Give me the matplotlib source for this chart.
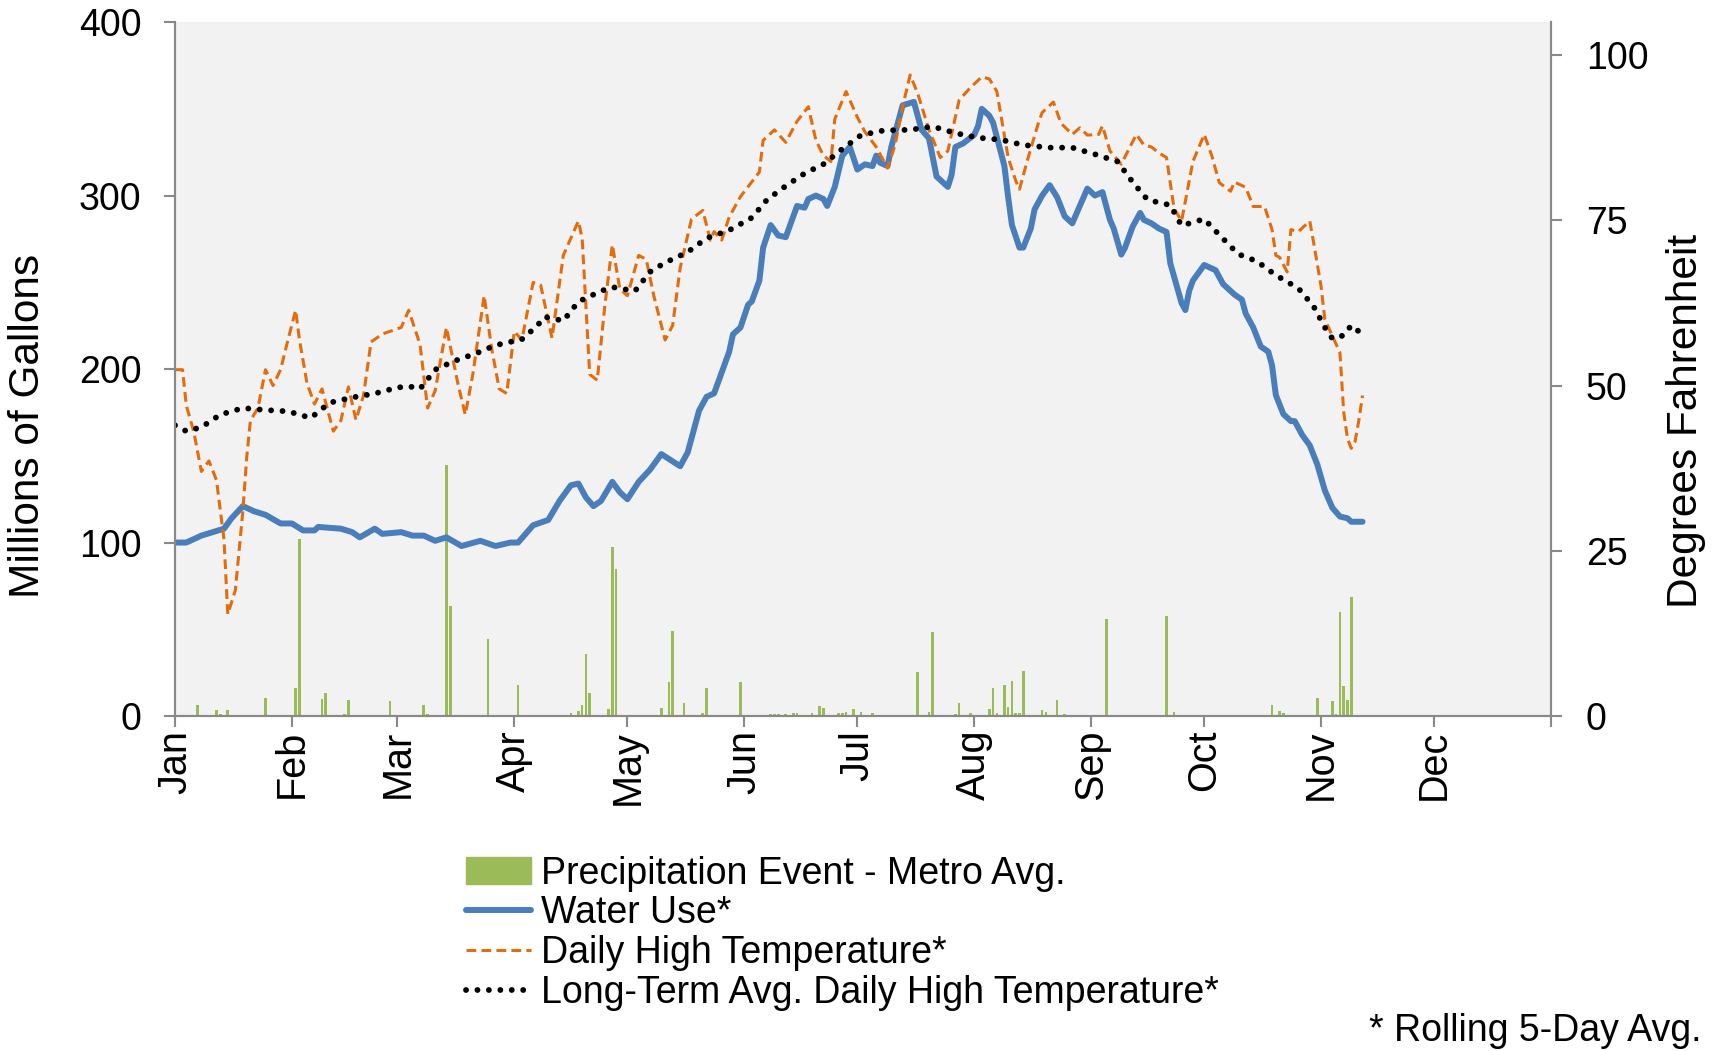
import matplotlib
matplotlib.use("Agg")
import matplotlib.pyplot as plt
from matplotlib.lines import Line2D
from matplotlib.patches import Patch

plt.rcParams['font.family'] = ['Liberation Sans', 'DejaVu Sans']

# ---- data (day of year) ----
months = ["Jan", "Feb", "Mar", "Apr", "May", "Jun", "Jul", "Aug", "Sep", "Oct", "Nov", "Dec"]
month_start = [0, 31, 59, 90, 120, 151, 181, 212, 243, 273, 304, 334]

use_day = [0, 3, 7, 10, 13, 15, 18, 21, 24, 28, 31, 34, 37, 38, 44, 47, 49, 53, 55, 60,
           63, 66, 69, 72, 76, 81, 85, 89, 91, 95, 99, 102, 105, 107, 109, 111, 113, 116, 118, 120,
           123, 126, 129, 134, 136, 139, 141, 143, 145, 147, 148, 150, 152, 153, 155, 156, 158, 160, 162, 165,
           167, 168, 170, 172, 173, 175, 177, 179, 181, 183, 185, 186, 187, 189, 190, 193, 196, 198, 200, 202,
           205, 206, 207, 209, 212, 213, 214, 216, 217, 220, 221, 222, 224, 225, 227, 228, 230, 232, 234, 236,
           238, 240, 242, 244, 246, 248, 249, 251, 252, 254, 256, 257, 259, 261, 263, 264, 267, 268, 269, 270,
           273, 276, 278, 279, 281, 283, 284, 286, 288, 290, 291, 292, 294, 296, 297, 299, 301, 303, 305, 307,
           309, 311, 312, 313, 315]
use_val = [100, 100, 104, 106, 108, 114, 121, 118, 116, 111, 111, 107, 107, 109, 108, 106, 103, 108, 105, 106,
           104, 104, 101, 103, 98, 101, 98, 100, 100, 110, 113, 124, 133, 134, 126, 121, 124, 135, 129, 125,
           135, 142, 151, 144, 152, 176, 184, 186, 198, 210, 220, 224, 237, 239, 251, 270, 283, 277, 276, 294,
           293, 298, 300, 298, 294, 305, 323, 328, 315, 318, 317, 323, 319, 317, 328, 352, 354, 338, 333, 311,
           305, 312, 328, 330, 335, 340, 350, 346, 342, 317, 299, 283, 270, 270, 281, 292, 300, 306, 299, 288,
           284, 294, 304, 300, 302, 286, 281, 266, 270, 282, 290, 286, 284, 281, 279, 261, 238, 234, 245, 251,
           260, 257, 249, 247, 243, 240, 232, 224, 213, 210, 202, 185, 174, 170, 170, 162, 156, 145, 130, 120,
           115, 114, 112, 112, 112]

hi_day = [0, 2, 3, 5, 7, 9, 11, 13, 14, 16, 18, 19, 20, 22, 24, 26, 28, 30, 32, 33,
          35, 37, 39, 42, 44, 46, 48, 50, 52, 55, 60, 62, 65, 67, 69, 72, 75, 77, 79, 82,
          84, 86, 88, 90, 92, 95, 97, 100, 103, 107, 108, 110, 112, 114, 116, 118, 120, 123, 125, 127,
          130, 132, 134, 137, 140, 142, 143, 145, 147, 150, 155, 156, 159, 162, 165, 168, 170, 172, 174, 175,
          178, 181, 183, 186, 189, 191, 193, 195, 197, 200, 203, 205, 208, 211, 214, 216, 218, 221, 223, 224,
          226, 229, 230, 233, 235, 238, 240, 242, 245, 246, 248, 251, 255, 257, 259, 261, 263, 265, 267, 270,
          273, 275, 277, 280, 281, 284, 286, 289, 291, 292, 293, 295, 296, 298, 301, 302, 304, 305, 307, 309,
          310, 311, 312, 313, 314, 315]
hi_val = [52.4, 52.4, 47, 43, 37, 38.6, 35.7, 26.7, 15.4, 19, 31, 39, 44.7, 46.6, 52.4, 50, 52.4, 57, 61.4, 57,
          50.4, 47.2, 49.5, 43.1, 44.7, 49.8, 44.8, 48.5, 56.6, 57.8, 58.8, 61.4, 56.2, 46.6, 49.2, 58.8, 50.4, 45.6, 51.7, 63.6,
          55.6, 49.5, 48.8, 58.2, 56.9, 65.6, 65.2, 57.2, 69.7, 74.9, 72.3, 51.7, 50.8, 62, 71.3, 64.6, 63.6, 69.7, 69.1, 63.6,
          56.9, 59.1, 67.8, 75.2, 76.5, 72, 73.3, 72, 75.5, 78.6, 82.3, 87.1, 88.7, 86.8, 90, 92.2, 87.1, 84.8, 83.9, 90.3,
          94.5, 90.6, 88.4, 86.1, 82.9, 86.4, 92.2, 97, 94.2, 88.7, 84.5, 85.5, 93.2, 95.1, 96.7, 96.4, 94.5, 84.5, 81, 79.7,
          83.9, 89.7, 91.3, 92.9, 89.7, 88, 89, 87.9, 88, 89.3, 85.5, 83.5, 88, 86.4, 86.1, 85.2, 84.5, 76.8, 74.9, 83.9,
          88, 84.8, 80.7, 79.4, 80.8, 80, 77.1, 77.1, 73.6, 69.7, 69.4, 67.2, 73.6, 73.3, 74.9, 71.7, 65, 60, 57.5, 55,
          46, 42, 40.5, 41.5, 44.7, 48.5]

avg_day = [0, 3, 7, 12, 18, 24, 30, 36, 41, 47, 53, 59, 62, 65, 69, 74, 80, 85, 92, 96,
           98, 103, 107, 113, 116, 122, 126, 130, 136, 141, 147, 153, 157, 162, 167, 172, 177, 182, 188, 195,
           201, 207, 213, 219, 225, 232, 238, 244, 250, 254, 258, 264, 267, 273, 277, 282, 287, 292, 298, 302,
           305, 307, 310, 312, 314]
avg_val = [44, 43.1, 43.7, 45.6, 46.6, 46.3, 46.1, 45.1, 47.4, 48.2, 48.8, 49.7, 49.9, 49.5, 52.4, 53.7, 54.9, 56.1, 57, 59,
           60.4, 59.8, 62.7, 64.3, 64.9, 64.3, 67.2, 68.6, 70.2, 72.3, 73.5, 75.4, 78.1, 80.2, 82.1, 83.5, 85.8, 87.9, 88.6, 88.7,
           89.2, 88.2, 87.5, 87.2, 86.4, 86, 86, 85, 83.9, 80.8, 78.1, 77.3, 74.2, 75.2, 72.8, 69.9, 68.8, 66.7, 64.7, 62,
           58.8, 57.1, 57.6, 59.1, 58.2]

rain_day = [6, 11, 12, 14, 24, 32, 33, 39, 40, 45, 46, 57, 66, 67, 72, 73, 83, 91, 105, 107,
            108, 109, 110, 115, 116, 117, 129, 131, 132, 135, 140, 141, 150, 158, 159, 160, 162, 164, 165, 169,
            171, 172, 176, 177, 178, 180, 182, 185, 189, 197, 200, 201, 207, 208, 211, 216, 217, 218, 220, 221,
            222, 223, 224, 225, 230, 231, 234, 236, 247, 263, 265, 291, 293, 294, 303, 307, 308, 309, 310, 311,
            312]
rain_val = [6.6, 3.2, 1.2, 3.7, 10.5, 16, 102, 9.8, 13.5, 1.2, 9, 8.6, 6.6, 1.2, 144.6, 63.2, 44.6, 17.9, 1.7, 2.9,
            6.6, 36, 13, 4.2, 97.5, 84.6, 4.9, 19.6, 49, 7.8, 1.7, 16.4, 19.6, 1.2, 1.2, 1, 1, 1.5, 2, 2,
            5.6, 4.4, 1.7, 1.7, 2.2, 4.2, 2.5, 1.7, 0.7, 25.2, 2.5, 48.5, 1, 7.4, 1.7, 4.2, 16.4, 2, 17.9, 5.4,
            20.3, 1.7, 2, 26.2, 3.7, 2.5, 9, 1.2, 56.1, 57.6, 2.5, 6.6, 2.9, 2, 10.5, 8.6, 1.2, 60, 17.2, 9,
            68.6]

GREEN = "#9bbb59"; BLUE = "#4a7ebb"; ORANGE = "#e46c0a"; GRAY = "#898989"
DASH = (3.2, 1.7)
DOT = (0, (0.01, 1.95))

fig = plt.figure(figsize=(17.19, 10.51), dpi=100)
ax = fig.add_axes([0.1018, 0.3187, 0.8005, 0.6603])
ax.set_facecolor("#f2f2f2")
ax.bar(rain_day, rain_val, width=0.7, color=GREEN, zorder=2)
ax.plot(use_day, use_val, color=BLUE, lw=4.3, solid_joinstyle="round", solid_capstyle="round", zorder=3)
ax.set_xlim(0, 365); ax.set_ylim(0, 400)
ax.set_yticks([0, 100, 200, 300, 400])
ax.set_xticks(month_start + [365])
ax.set_xticklabels(months + [""], rotation=90, va="top", ha="center", fontsize=28.5)
ax.tick_params(axis="both", direction="out", length=8, width=1.5, color=GRAY)
ax.tick_params(axis="y", pad=16, labelsize=27)
ax.tick_params(axis="x", pad=2)
ax.set_ylabel("Millions of Gallons", fontsize=30.5)
ax.yaxis.set_label_coords(-0.107, 0.418)
ax.yaxis.label.set_verticalalignment("center")

ax2 = ax.twinx()
ax2.plot(hi_day, hi_val, color=ORANGE, lw=2.2, dashes=DASH)
ax2.plot(avg_day, avg_val, color="black", lw=4.2, linestyle=DOT, dash_capstyle="round")
ax2.set_ylim(0, 105)
ax2.set_yticks([0, 25, 50, 75, 100])
ax2.tick_params(axis="y", direction="out", length=8, width=1.5, color=GRAY, labelsize=27, pad=17)
ax2.set_ylabel("Degrees Fahrenheit", fontsize=30.5)
ax2.yaxis.set_label_coords(1.098, 0.425)
ax2.yaxis.label.set_verticalalignment("center")

for a in (ax, ax2):
    a.spines["top"].set_visible(False)
    for s in ("left", "right", "bottom"):
        a.spines[s].set_color(GRAY); a.spines[s].set_linewidth(1.5)

handles = [Patch(color=GREEN),
           Line2D([], [], color=BLUE, lw=4.3, solid_capstyle="round"),
           Line2D([], [], color=ORANGE, lw=2.2, dashes=DASH),
           Line2D([], [], color="black", lw=4.2, linestyle=DOT, dash_capstyle="round")]
labels = ["Precipitation Event - Metro Avg.", "Water Use*", "Daily High Temperature*",
          "Long-Term Avg. Daily High Temperature*"]
fig.legend(handles, labels, loc="upper left", bbox_to_anchor=(0.271, 0.186), frameon=False,
           fontsize=27, handlelength=1.75, handletextpad=0.25, labelspacing=0.1, borderaxespad=0,
           borderpad=0)
fig.text(0.9896, 0.019, "* Rolling 5-Day Avg.", ha="right", va="center", fontsize=27)

fig.savefig("out.png", dpi=100)
